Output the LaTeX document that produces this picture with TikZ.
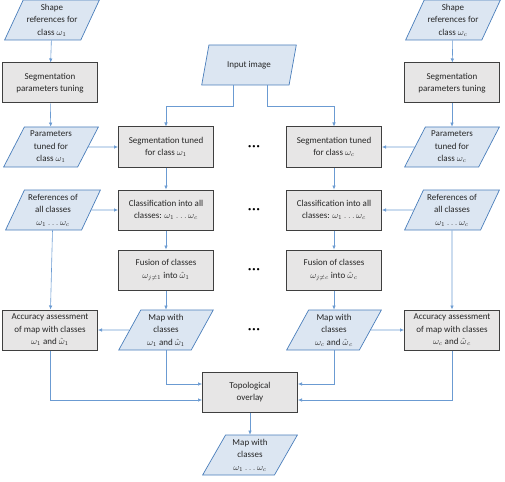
\documentclass[tikz,border=0pt]{standalone}
\usepackage{fontspec}
\setmainfont{Carlito}
\usetikzlibrary{shapes.geometric,arrows.meta}
\definecolor{datafill}{HTML}{DCE6F2}
\definecolor{dataline}{HTML}{4A7EBB}
\definecolor{procfill}{HTML}{E7E6E6}
\definecolor{procline}{HTML}{3F3F3F}
\definecolor{flow}{HTML}{6B9BD2}
\newcommand{\fusedc}{{\hat{\omega}}_{\kern.8pt c}}
\tikzset{
  data/.style={trapezium,trapezium left angle=63,trapezium right angle=117,
    trapezium stretches=true,minimum width=95pt,minimum height=40pt,
    inner xsep=0pt,inner ysep=0pt,fill=datafill,draw=dataline,line width=0.7pt,
    align=center,font=\fontsize{9}{12.5}\selectfont,text=black!85},
  proc/.style={rectangle,minimum width=95pt,minimum height=40pt,inner sep=1pt,
    fill=procfill,draw=procline,line width=1pt,align=center,
    font=\fontsize{9}{12.5}\selectfont,text=black!85},
  conn/.style={draw=flow,line width=0.6pt,-{Latex[length=4pt,width=3.5pt]}},
  more/.style={font=\fontsize{6.5}{7}\selectfont}
}
\begin{document}
\begin{tikzpicture}[x=1pt,y=-1pt]
  \useasboundingbox (0,0) rectangle (505,481);
  % left column
  \node[data] (sref1) at (52,20) {Shape\\references for\\class $\omega_1$};
  \node[proc] (stun1) at (50,83) {Segmentation\\parameters tuning};
  \node[data] (ptun1) at (51,147) {Parameters\\tuned for\\class $\omega_1$};
  \node[data] (refs1) at (53,210) {References of\\all classes\\$\omega_1 \ldots \omega_c$};
  \node[proc] (acc1) at (50,330) {Accuracy assessment\\of map with classes\\$\omega_1$ and $\hat{\omega}_1$};
  % right column
  \node[data] (srefc) at (453,20) {Shape\\references for\\class $\omega_c$};
  \node[proc] (stunc) at (452,83) {Segmentation\\parameters tuning};
  \node[data] (ptunc) at (452,147) {Parameters\\tuned for\\class $\omega_c$};
  \node[data] (refsc) at (452,210) {References of\\all classes\\$\omega_1 \ldots \omega_c$};
  \node[proc] (accc) at (452,330) {Accuracy assessment\\of map with classes\\$\omega_c$ and $\fusedc$};
  % middle
  \node[data] (input) at (249,65) {Input image};
  \node[proc] (seg1) at (166,147) {Segmentation tuned\\for class $\omega_1$};
  \node[proc] (cls1) at (166,210) {Classification into all\\classes: $\omega_1 \ldots \omega_c$};
  \node[proc] (fus1) at (166,270) {Fusion of classes\\$\omega_{j\neq 1}$ into $\hat{\omega}_1$};
  \node[data] (map1) at (166,330) {Map with\\classes\\$\omega_1$ and $\hat{\omega}_1$};
  \node[proc] (segc) at (334,147) {Segmentation tuned\\for class $\omega_c$};
  \node[proc] (clsc) at (334,210) {Classification into all\\classes: $\omega_1 \ldots \omega_c$};
  \node[proc] (fusc) at (334,270) {Fusion of classes\\$\omega_{j\neq c}$ into $\fusedc$};
  \node[data] (mapc) at (334,330) {Map with\\classes\\$\omega_c$ and $\fusedc$};
  \node[proc] (topo) at (250,392) {Topological\\overlay};
  \node[data] (final) at (250,455) {Map with\\classes\\$\omega_1 \ldots \omega_c$};
  % dots
  \foreach \y [count=\i] in {147,210,270,330}
    \node[more] (dots\i) at (254,\y) {\textbullet\,\textbullet\,\textbullet};
  % bends
  \coordinate (k1) at (166,106);
  \coordinate (kc) at (334,106);
  % connectors
  \draw[conn] (sref1) -- (stun1);
  \draw[conn] (stun1) -- (ptun1);
  \draw[conn] (ptun1) -- (seg1);
  \draw[conn] (srefc) -- (stunc);
  \draw[conn] (stunc) -- (ptunc);
  \draw[conn] (ptunc) -- (segc);
  \draw[conn] ([xshift=-16pt]input.south) |- (k1) -- (seg1);
  \draw[conn] ([xshift=18pt]input.south) |- (kc) -- (segc);
  \draw[conn] (seg1) -- (cls1);
  \draw[conn] (refs1) -- (cls1);
  \draw[conn] (cls1) -- (fus1);
  \draw[conn] (fus1) -- (map1);
  \draw[conn] (map1) -- (acc1);
  \draw[conn] (refs1) -- (acc1);
  \draw[conn] (segc) -- (clsc);
  \draw[conn] (refsc) -- (clsc);
  \draw[conn] (clsc) -- (fusc);
  \draw[conn] (fusc) -- (mapc);
  \draw[conn] (mapc) -- (accc);
  \draw[conn] (refsc) -- (accc);
  \draw[conn] (map1) |- ([yshift=8pt]topo.west);
  \draw[conn] (acc1) |- ([yshift=-8pt]topo.west);
  \draw[conn] (mapc) |- ([yshift=8pt]topo.east);
  \draw[conn] (accc) |- ([yshift=-8pt]topo.east);
  \draw[conn] (topo) -- (final);
\end{tikzpicture}
\end{document}
